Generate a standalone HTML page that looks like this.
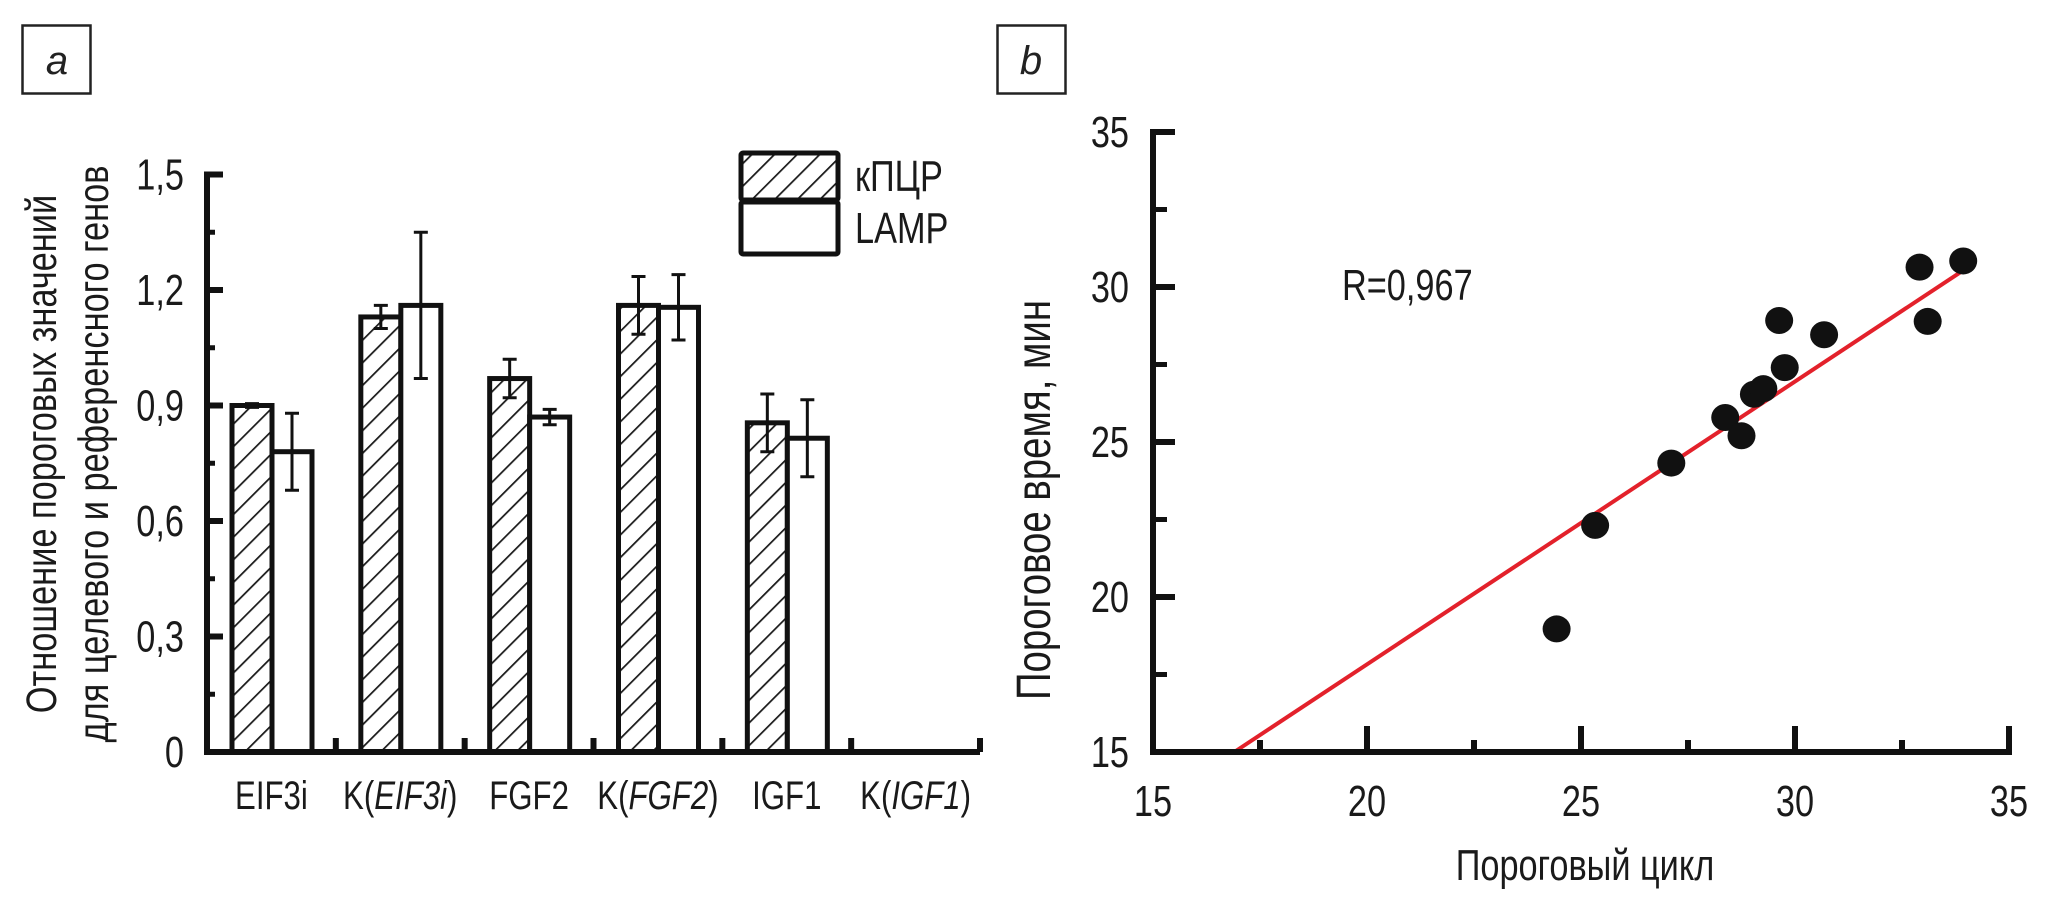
<!DOCTYPE html>
<html><head><meta charset="utf-8"><style>
html,body{margin:0;padding:0;background:#fff;}
svg{display:block;font-family:"Liberation Sans",sans-serif;}
</style></head><body>
<svg id="chart" width="2063" height="912" viewBox="0 0 2063 912" xmlns="http://www.w3.org/2000/svg">
<defs>
<pattern id="hatch" patternUnits="userSpaceOnUse" width="16" height="16" patternTransform="rotate(45)">
<rect width="16" height="16" fill="#fff"/><line x1="0" y1="0" x2="0" y2="16" stroke="#1a1a1a" stroke-width="3.5"/>
</pattern>
</defs>
<g><rect x="22.5" y="25.5" width="68" height="68" fill="none" stroke="#222" stroke-width="2.5"/><text x="57" y="74" font-size="40" font-style="italic" text-anchor="middle" fill="#222">a</text></g>
<g><rect x="997.5" y="25.5" width="68" height="68" fill="none" stroke="#222" stroke-width="2.5"/><text x="1031" y="74" font-size="40" font-style="italic" text-anchor="middle" fill="#222">b</text></g>
<g id="pa"></g>
<g id="pb"></g>
</svg>
<script>
const categories = ["EIF3i","K(EIF3i)","FGF2","K(FGF2)","IGF1","K(IGF1)"];
const qpcrValues = [0.90, 1.13, 0.97, 1.16, 0.855, null];
const qpcrErrors = [0.005, 0.03, 0.05, 0.075, 0.075, null];
const lampValues = [0.78, 1.16, 0.87, 1.155, 0.815, null];
const lampErrors = [0.10, 0.19, 0.02, 0.085, 0.10, null];
const yTicksA = ["0","0,3","0,6","0,9","1,2","1,5"];
const yTickValsA = [0,0.3,0.6,0.9,1.2,1.5];

const scatterX = [24.43,25.33,27.11,28.37,28.75,29.04,29.26,29.63,29.76,30.68,32.91,33.10,33.93];
const scatterY = [18.97,22.31,24.32,25.79,25.20,26.54,26.72,28.92,27.40,28.46,30.64,28.89,30.84];
const fitLine = [[16.9,15],[34.0,30.6]];
const xTicksB = [15,20,25,30,35];
const yTicksB = [15,20,25,30,35];

const NS="http://www.w3.org/2000/svg";
function mk(parent,tag,attrs){const e=document.createElementNS(NS,tag);for(const k in attrs)e.setAttribute(k,attrs[k]);parent.appendChild(e);return e;}
function txt(parent,x,y,s,size,anchor){
  const t=mk(parent,"text",{transform:`translate(${x},${y}) scale(0.78,1)`,"font-size":size,"text-anchor":anchor||"start",fill:"#1a1a1a"});
  t.textContent=s;return t;
}
// ---- panel a ----
const pa=document.getElementById("pa");
const ax0=207, ay0=752, axEnd=980, pxPerUnit=385;
const yA=v=>ay0-v*pxPerUnit;
const catW=(axEnd-ax0)/categories.length;
const xCat=i=>ax0+i*catW;
categories.forEach((c,i)=>{
  const x0=xCat(i)+25, bw=40;
  if(qpcrValues[i]!==null){
    const b=mk(pa,"rect",{x:x0,y:yA(qpcrValues[i]),width:bw,height:ay0-yA(qpcrValues[i]),fill:"url(#hatch)",stroke:"#111","stroke-width":5});
    
    
    const e=mk(pa,"path",{d:`M${x0+bw/2} ${yA(qpcrValues[i]+qpcrErrors[i])}V${yA(qpcrValues[i]-qpcrErrors[i])}M${x0+bw/2-7} ${yA(qpcrValues[i]+qpcrErrors[i])}h14M${x0+bw/2-7} ${yA(qpcrValues[i]-qpcrErrors[i])}h14`,stroke:"#111","stroke-width":3,fill:"none"});
    
    
  }
  if(lampValues[i]!==null){
    const x1=x0+bw;
    const b=mk(pa,"rect",{x:x1,y:yA(lampValues[i]),width:bw,height:ay0-yA(lampValues[i]),fill:"#fff",stroke:"#111","stroke-width":5});
    
    
    const e=mk(pa,"path",{d:`M${x1+bw/2} ${yA(lampValues[i]+lampErrors[i])}V${yA(lampValues[i]-lampErrors[i])}M${x1+bw/2-7} ${yA(lampValues[i]+lampErrors[i])}h14M${x1+bw/2-7} ${yA(lampValues[i]-lampErrors[i])}h14`,stroke:"#111","stroke-width":3,fill:"none"});
    
    
  }
  const lbl=mk(pa,"text",{transform:`translate(${xCat(i)+catW/2},809) scale(0.78,1)`,"font-size":40,"text-anchor":"middle",fill:"#1a1a1a"});
  
  
  const m=c.match(/^K\((.*)\)$/);
  if(m){lbl.appendChild(document.createTextNode("K("));const it=mk(lbl,"tspan",{"font-style":"italic"});it.textContent=m[1];lbl.appendChild(document.createTextNode(")"));}
  else lbl.textContent=c;
});
const axA=mk(pa,"path",{d:`M${ax0} ${yA(1.5)-3}V${ay0}H${axEnd}`,stroke:"#111","stroke-width":6,fill:"none"});


for(let i=1;i<=categories.length;i++){mk(pa,"line",{x1:xCat(i),y1:ay0,x2:xCat(i),y2:ay0-14,stroke:"#111","stroke-width":6});}
yTickValsA.forEach((v,i)=>{
  mk(pa,"line",{x1:ax0,y1:yA(v),x2:ax0+16,y2:yA(v),stroke:"#111","stroke-width":6});
  if(i<yTickValsA.length-1) mk(pa,"line",{x1:ax0,y1:yA(v+0.15),x2:ax0+8,y2:yA(v+0.15),stroke:"#111","stroke-width":5});
  const t=txt(pa,184,yA(v)+15,yTicksA[i],44,"end");
  
  
});
const yt=mk(pa,"text",{transform:"translate(56,454) rotate(-90) scale(0.8,1)","font-size":43,"text-anchor":"middle",fill:"#1a1a1a"});


yt.textContent="Отношение пороговых значений";
const yt2=mk(pa,"text",{transform:"translate(108,454) rotate(-90) scale(0.8,1)","font-size":43,"text-anchor":"middle",fill:"#1a1a1a"});


yt2.textContent="для целевого и референсного генов";
const lg=mk(pa,"g",{});


mk(lg,"rect",{x:741,y:153,width:97,height:47,fill:"url(#hatch)",stroke:"#111","stroke-width":5,rx:2});
mk(lg,"rect",{x:741,y:202,width:97,height:52,fill:"#fff",stroke:"#111","stroke-width":5,rx:2});
const l1=txt(lg,855,191,"кПЦР",44);
const l2=txt(lg,855,243,"LAMP",44);

// ---- panel b ----
const pb=document.getElementById("pb");
const bx0=1153, by0=752;
const xB=v=>bx0+(v-15)*42.8;
const yB=v=>by0-(v-15)*31;
const fl=mk(pb,"line",{x1:xB(fitLine[0][0]),y1:yB(fitLine[0][1]),x2:xB(fitLine[1][0]),y2:yB(fitLine[1][1]),stroke:"#e3212b","stroke-width":4});


const axB=mk(pb,"path",{d:`M${bx0} ${yB(35)-3}V${by0}H${xB(35)+3}`,stroke:"#111","stroke-width":6,fill:"none"});


xTicksB.forEach((v,i)=>{
  if(i>0) mk(pb,"line",{x1:xB(v),y1:by0,x2:xB(v),y2:by0-26,stroke:"#111","stroke-width":6});
  if(i<xTicksB.length-1) mk(pb,"line",{x1:xB(v+2.5),y1:by0,x2:xB(v+2.5),y2:by0-12,stroke:"#111","stroke-width":6});
  const t=txt(pb,xB(v),816,String(v),44,"middle");
  
  
});
yTicksB.forEach((v,i)=>{
  if(i>0) mk(pb,"line",{x1:bx0,y1:yB(v),x2:bx0+22,y2:yB(v),stroke:"#111","stroke-width":6});
  if(i<yTicksB.length-1) mk(pb,"line",{x1:bx0,y1:yB(v+2.5),x2:bx0+14,y2:yB(v+2.5),stroke:"#111","stroke-width":5});
  const t=txt(pb,1129,yB(v)+15,String(v),44,"end");
  
  
});
scatterX.forEach((x,i)=>{
  const c=mk(pb,"ellipse",{cx:xB(x),cy:yB(scatterY[i]),rx:14,ry:13.5,fill:"#111"});
  
  
});
const r=txt(pb,1342,300,"R=0,967",44);


const xt=txt(pb,1585,880,"Пороговый цикл",44,"middle");


const ytb=mk(pb,"text",{transform:"translate(1050,500) rotate(-90) scale(0.8,1)","font-size":48,"text-anchor":"middle",fill:"#1a1a1a"});


ytb.textContent="Пороговое время, мин";
</script>
</body></html>
